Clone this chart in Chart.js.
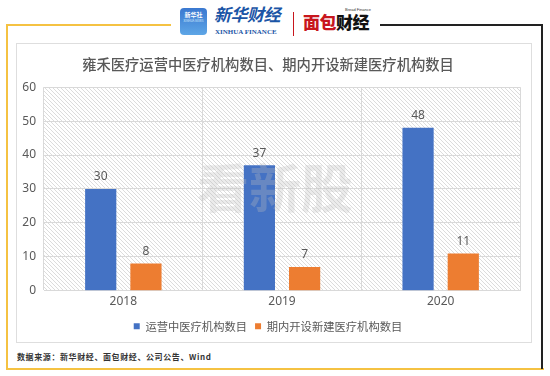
<!DOCTYPE html>
<html>
<head>
<meta charset="utf-8">
<script src="https://cdn.jsdelivr.net/npm/chart.js@4.4.1/dist/chart.umd.min.js"></script>
<style>
  html, body { margin:0; padding:0; background:#fff; }
  body { width:550px; height:376px; position:relative; overflow:hidden; font-family:"Noto Sans CJK SC","Noto Sans",sans-serif; }
  .abs { position:absolute; }
  #box { left:16px; top:43px; width:516px; height:300px; border:1px solid #dedede; box-sizing:border-box; }
  #wrap { left:16px; top:43px; width:517px; height:301px; }
</style>
</head>
<body>
<!-- outer frame -->
<div class="abs" style="left:6px;top:24px;width:165px;height:2px;background:#f5c242;"></div>
<div class="abs" style="left:6px;top:24px;width:2px;height:346px;background:#f5c242;"></div>
<div class="abs" style="left:6px;top:368px;width:538px;height:2px;background:#f5c242;"></div>
<div class="abs" style="left:380px;top:24px;width:163px;height:1.5px;background:#222;"></div>
<div class="abs" style="left:541px;top:24px;width:2px;height:345px;background:#222;"></div>
<!-- header logos -->
<div class="abs" style="left:180px;top:8px;width:27px;height:27px;border-radius:4px;background:linear-gradient(#3a78d0,#5ea6e6);"></div>
<div class="abs" style="left:182px;top:11px;width:23px;font-size:6px;line-height:7px;color:#fff;text-align:center;font-weight:bold;">新华社</div>
<div class="abs" style="left:182px;top:19px;width:23px;font-size:3px;line-height:4px;color:#dfefff;text-align:center;">XINHUA NEWS</div>
<div class="abs" style="left:214px;top:4px;font-size:17px;line-height:20px;color:#1b55a6;font-style:italic;font-weight:bold;letter-spacing:-0.5px;">新华财经</div>
<div class="abs" style="left:215px;top:28px;font-size:7px;line-height:8px;color:#1b55a6;font-family:'Liberation Serif',serif;font-weight:bold;">XINHUA FINANCE</div>
<div class="abs" style="left:293px;top:12px;width:1px;height:24px;background:#c8161d;"></div>
<div class="abs" style="left:303px;top:12px;font-size:17px;line-height:20px;font-weight:900;letter-spacing:-0.5px;"><span style="color:#c8161d;">面包</span><span style="color:#111;">财经</span></div>
<div class="abs" style="left:345px;top:8px;font-size:4px;line-height:4px;color:#333;font-family:'Liberation Sans',sans-serif;">Bread Finance</div>
<!-- inner box -->
<div id="box" class="abs"></div>
<div id="wrap" class="abs"><canvas id="c" width="517" height="301"></canvas></div>
<!-- footer -->
<div class="abs" style="left:17px;top:351px;font-size:8px;line-height:11px;color:#333;font-weight:bold;letter-spacing:0.6px;">数据来源：新华财经、面包财经、公司公告、Wind</div>

<script>
const categories = ["2018", "2019", "2020"];
const operatingCount = [30, 37, 48];
const newlyOpened = [8, 7, 11];
const seriesNames = ["运营中医疗机构数目", "期内开设新建医疗机构数目"];
const yTicks = [0, 10, 20, 30, 40, 50, 60];
const chartTitle = "雍禾医疗运营中医疗机构数目、期内开设新建医疗机构数目";

function makeHatch() {
  const p = document.createElement('canvas');
  p.width = 4; p.height = 4;
  const g = p.getContext('2d');
  g.fillStyle = '#ffffff'; g.fillRect(0,0,4,4);
  g.strokeStyle = '#dcdcdc'; g.lineWidth = 1;
  g.beginPath();
  g.moveTo(0,0); g.lineTo(4,4);
  g.moveTo(-2,2); g.lineTo(2,6);
  g.moveTo(2,-2); g.lineTo(6,2);
  g.stroke();
  return g.createPattern(p, 'repeat');
}

const bgPlugin = {
  id: 'bgHatch',
  beforeDraw(chart) {
    const {ctx, chartArea:a} = chart;
    ctx.save();
    ctx.fillStyle = makeHatch();
    ctx.fillRect(a.left, a.top, a.right - a.left, a.bottom - a.top);
    ctx.restore();
  }
};

const labelPlugin = {
  id: 'valLabels',
  afterDatasetsDraw(chart) {
    const ctx = chart.ctx;
    ctx.save();
    ctx.font = '12px "Noto Sans","Liberation Sans",sans-serif';
    ctx.fillStyle = '#595959';
    ctx.textAlign = 'center';
    ctx.textBaseline = 'middle';
    chart.data.datasets.forEach((ds, i) => {
      chart.getDatasetMeta(i).data.forEach((bar, j) => {
        ctx.fillText(String(ds.data[j]), bar.x, bar.y - 12);
      });
    });
    ctx.restore();
  },
  afterDraw(chart) {
    const ctx = chart.ctx;
    ctx.save();
    ctx.font = 'bold 52px "Noto Sans CJK SC",sans-serif';
    ctx.fillStyle = 'rgba(190,190,190,0.3)';
    ctx.textAlign = 'center';
    ctx.textBaseline = 'middle';
    ctx.fillText('看新股', 259, 145);
    ctx.restore();
  }
};

new Chart(document.getElementById('c'), {
  type: 'bar',
  data: {
    labels: categories,
    datasets: [
      { label: seriesNames[0], data: operatingCount, backgroundColor: '#4472C4', categoryPercentage: 0.57, barPercentage: 0.69 },
      { label: seriesNames[1], data: newlyOpened, backgroundColor: '#ED7D31', categoryPercentage: 0.57, barPercentage: 0.69 }
    ]
  },
  options: {
    responsive: false,
    animation: false,
    devicePixelRatio: 1,
    layout: { padding: { left: 0, right: 13, top: 0, bottom: 2 } },
    plugins: {
      title: {
        display: true, text: chartTitle, color: '#595959',
        font: { family: '"Noto Sans CJK SC",sans-serif', size: 14.3, weight: '500' },
        padding: { top: 13, bottom: 14 }
      },
      legend: {
        position: 'bottom',
        labels: {
          color: '#595959', boxWidth: 6, boxHeight: 6, padding: 8,
          font: { family: '"Noto Sans CJK SC",sans-serif', size: 11.3 }
        }
      },
      tooltip: { enabled: false }
    },
    scales: {
      x: {
        grid: { color: '#d9d9d9', drawTicks: false },
        border: { color: '#d9d9d9' },
        ticks: { color: '#595959', padding: 5, font: { family: '"Noto Sans","Liberation Sans",sans-serif', size: 12, lineHeight: 1 } }
      },
      y: {
        min: 0, max: 60,
        afterBuildTicks(scale) { scale.ticks = yTicks.map(v => ({ value: v })); },
        afterFit(scale) { scale.width = 28; },
        grid: { color: '#d9d9d9', drawTicks: false },
        border: { display: false },
        ticks: { color: '#595959', padding: 8, font: { family: '"Noto Sans","Liberation Sans",sans-serif', size: 12 } }
      }
    }
  },
  plugins: [bgPlugin, labelPlugin]
});
</script>
</body>
</html>
